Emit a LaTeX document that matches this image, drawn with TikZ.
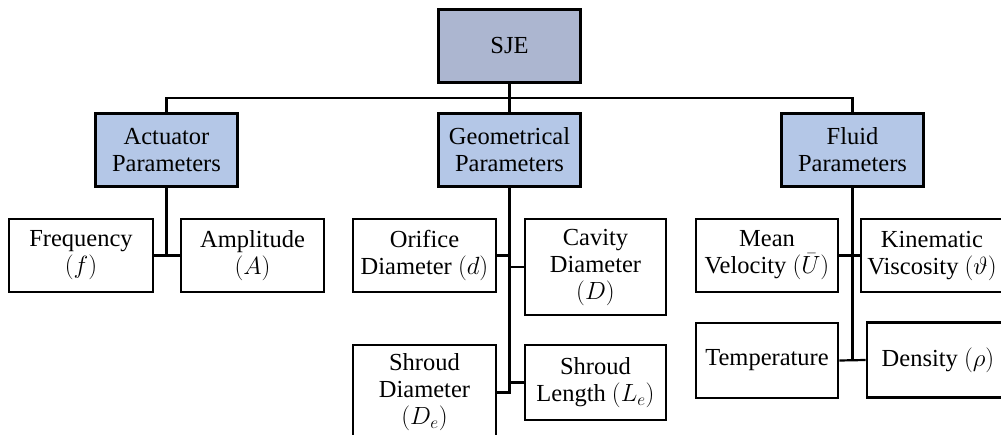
\documentclass[tikz,border=0pt]{standalone}
\usepackage{fontspec}
\setmainfont{Liberation Serif}
\definecolor{rootblue}{RGB}{172,182,208}
\definecolor{headblue}{RGB}{180,199,231}
\begin{document}
\begin{tikzpicture}[x=1pt,y=-1pt,
  font=\fontsize{24.5}{27}\selectfont,
  box/.style={draw=black, line width=2.6pt, inner sep=0pt, align=center,
    minimum width=142pt, minimum height=73pt},
  root/.style={box, fill=rootblue},
  param/.style={box, fill=headblue},
  link/.style={line width=2.2pt}]

\clip (0,0) rectangle (1001,435);

% top level
\node [root] (sje) at (509.5,46) {SJE};
\node [param] (act) at (166.5,150) {Actuator\\Parameters};
\node [param] (geo) at (509.5,150) {Geometrical\\Parameters};
\node [param] (flu) at (852.5,150) {Fluid\\Parameters};

\coordinate (bar) at (509.5,98);
\draw [link] (sje) -- (bar);
\draw [link] (act.north) -- (act.north |- bar) -- (flu.north |- bar) -- (flu.north);
\draw [link] (bar) -- (geo.north);

% actuator
\node [box, minimum width=144pt] (freq) at (81,255.5) {Frequency\\$(f)$};
\node [box, minimum width=143pt] (amp) at (252.5,255.5) {Amplitude\\$(A)$};
\draw [link] (act.south) -- (act.south |- freq.east);
\draw [link] (freq.east) -- (amp.west);

% geometry
\node [box, minimum width=143pt] (ori) at (424.5,255.5) {Orifice\\Diameter $(d)$};
\node [box, minimum width=141pt, minimum height=96pt] (cav) at (595.5,267) {Cavity\\Diameter\\$(D)$};
\node [box, minimum width=143pt, minimum height=95pt] (shd) at (424.5,392.5) {Shroud\\Diameter\\$(D_e)$};
\node [box, minimum width=141pt, minimum height=75pt] (shl) at (595.5,382.5) {Shroud\\Length $(L_e)$};
\draw [link] (geo.south) -- (geo.south |- shd.east) -- (shd.east);
\draw [link] (ori.east) -- (ori.east -| geo.south);
\draw [link] (cav.west) -- (cav.west -| geo.south);
\draw [link] (shl.west) -- (shl.west -| geo.south);

% fluid
\node [box] (mean) at (767,255.5) {Mean\\Velocity $(\bar{U})$};
\node [box] (kin) at (932,255.5) {Kinematic\\Viscosity $(\vartheta)$};
\node [box, minimum height=75pt] (temp) at (767,360.5) {Temperature};
\node [box, minimum height=75pt] (den) at (938,360) {Density $(\rho)$};
\draw [link] (flu.south) -- (flu.south |- temp.east);
\draw [link] (mean.east) -- (kin.west);
\draw [link] (temp.east) -- (den.west);

\end{tikzpicture}
\end{document}
